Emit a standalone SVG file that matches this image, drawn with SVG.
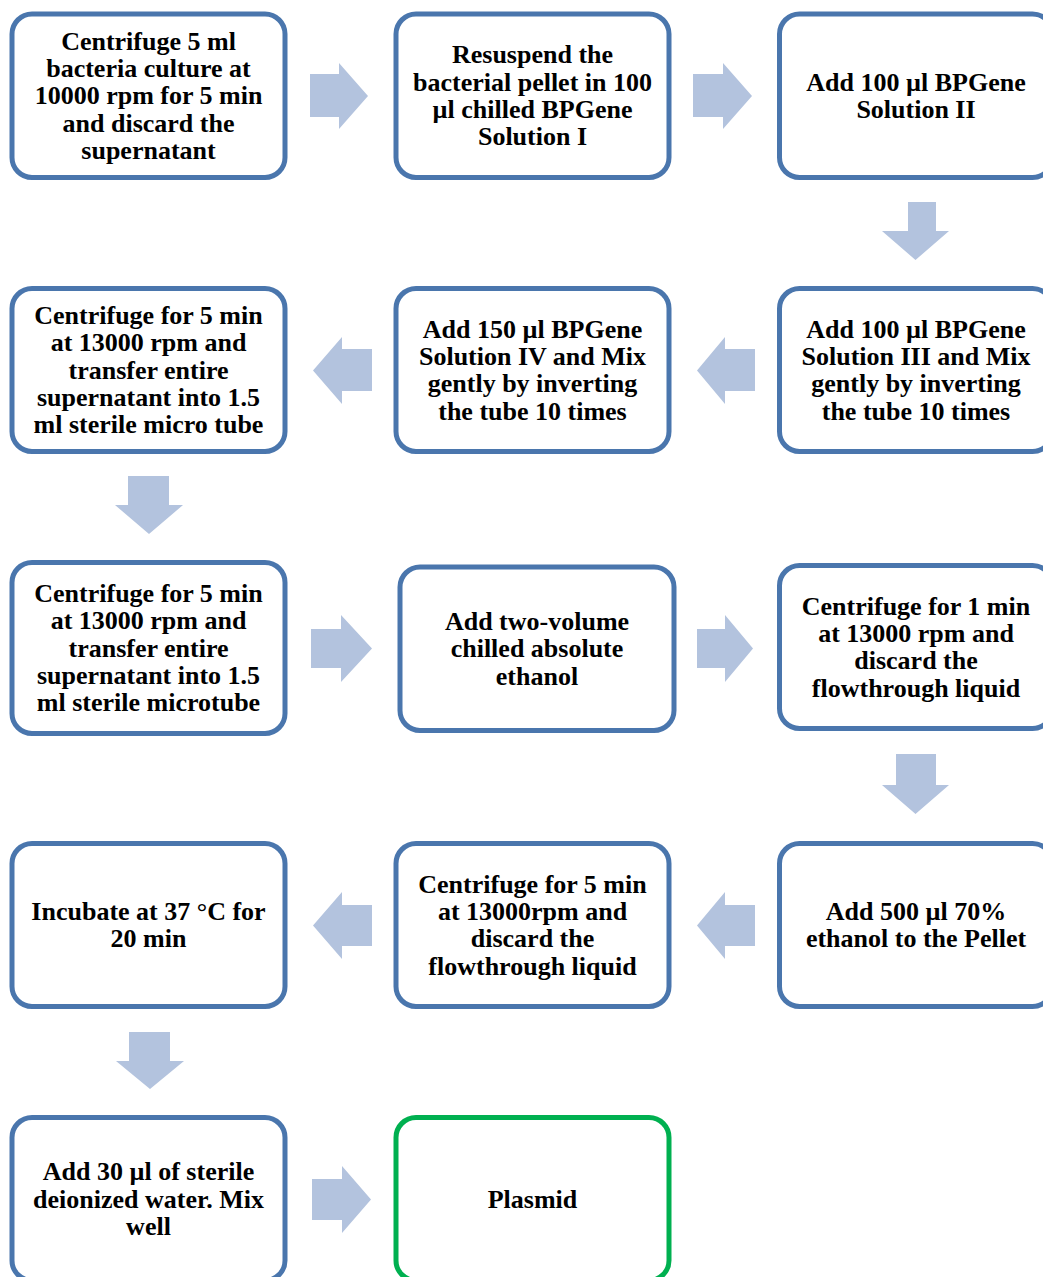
<svg xmlns="http://www.w3.org/2000/svg" width="1043" height="1277" viewBox="0 0 1043 1277">
<style>
.box{fill:#ffffff;stroke:#4a76ad;stroke-width:5}
.final{fill:#ffffff;stroke:#00b050;stroke-width:5}
.arr{fill:#b3c3de;stroke:none}
text{font-family:"Liberation Serif","Times New Roman",serif;font-weight:bold;font-size:26px;fill:#000000;text-anchor:middle}
</style>
<rect width="1043" height="1277" fill="#ffffff"/>
<g id="connectors">
<polygon class="arr" points="310,74 339,74 339,63 368,96 339,129 339,117 310,117"/>
<polygon class="arr" points="693,74 723,74 723,63 752,96 723,129 723,117 693,117"/>
<polygon class="arr" points="908,202 936,202 936,231 949,231 915.5,260 882,231 908,231"/>
<polygon class="arr" points="755,349 725,349 725,337 697,370.5 725,404 725,391 755,391"/>
<polygon class="arr" points="372,349 342,349 342,337 313,370.5 342,404 342,391 372,391"/>
<polygon class="arr" points="128,476 169,476 169,505 183,505 149,534 115,505 128,505"/>
<polygon class="arr" points="311,629 341,629 341,615 372,648.5 341,682 341,668 311,668"/>
<polygon class="arr" points="697,629 725,629 725,615 753,648.5 725,682 725,668 697,668"/>
<polygon class="arr" points="896,754 936,754 936,785 949,785 915.5,814 882,785 896,785"/>
<polygon class="arr" points="755,905 725,905 725,892 697,925.5 725,959 725,946 755,946"/>
<polygon class="arr" points="372,905 342,905 342,892 313,925.5 342,959 342,946 372,946"/>
<polygon class="arr" points="129,1032 170,1032 170,1061 184,1061 150,1089 116,1061 129,1061"/>
<polygon class="arr" points="312,1179 342,1179 342,1166 371,1199.5 342,1233 342,1220 312,1220"/>
</g>
<g id="n1">
<rect class="box" x="12" y="14" width="273" height="163.5" rx="20"/>
<text><tspan x="148.5" y="49.6">Centrifuge 5 ml</tspan><tspan x="148.5" y="76.9">bacteria culture at</tspan><tspan x="148.5" y="104.2">10000 rpm for 5 min</tspan><tspan x="148.5" y="131.5">and discard the</tspan><tspan x="148.5" y="158.8">supernatant</tspan></text>
</g>
<g id="n2">
<rect class="box" x="396" y="14" width="273" height="163.5" rx="20"/>
<text><tspan x="532.5" y="63.3">Resuspend the</tspan><tspan x="532.5" y="90.6">bacterial pellet in 100</tspan><tspan x="532.5" y="117.9">µl chilled BPGene</tspan><tspan x="532.5" y="145.2">Solution I</tspan></text>
</g>
<g id="n3">
<rect class="box" x="779.5" y="14" width="273" height="163.5" rx="20"/>
<text><tspan x="916" y="90.6">Add 100 µl BPGene</tspan><tspan x="916" y="117.9">Solution II</tspan></text>
</g>
<g id="n4">
<rect class="box" x="779.5" y="288.5" width="273" height="163" rx="20"/>
<text><tspan x="916" y="337.6">Add 100 µl BPGene</tspan><tspan x="916" y="364.9">Solution III and Mix</tspan><tspan x="916" y="392.2">gently by inverting</tspan><tspan x="916" y="419.5">the tube 10 times</tspan></text>
</g>
<g id="n5">
<rect class="box" x="396" y="288.5" width="273" height="163" rx="20"/>
<text><tspan x="532.5" y="337.6">Add 150 µl BPGene</tspan><tspan x="532.5" y="364.9">Solution IV and Mix</tspan><tspan x="532.5" y="392.2">gently by inverting</tspan><tspan x="532.5" y="419.5">the tube 10 times</tspan></text>
</g>
<g id="n6">
<rect class="box" x="12" y="288.5" width="273" height="163" rx="20"/>
<text><tspan x="148.5" y="323.9">Centrifuge for 5 min</tspan><tspan x="148.5" y="351.2">at 13000 rpm and</tspan><tspan x="148.5" y="378.5">transfer entire</tspan><tspan x="148.5" y="405.8">supernatant into 1.5</tspan><tspan x="148.5" y="433.1">ml sterile micro tube</tspan></text>
</g>
<g id="n7">
<rect class="box" x="12" y="562.5" width="273" height="171" rx="20"/>
<text><tspan x="148.5" y="601.9">Centrifuge for 5 min</tspan><tspan x="148.5" y="629.2">at 13000 rpm and</tspan><tspan x="148.5" y="656.5">transfer entire</tspan><tspan x="148.5" y="683.8">supernatant into 1.5</tspan><tspan x="148.5" y="711.1">ml sterile microtube</tspan></text>
</g>
<g id="n8">
<rect class="box" x="400" y="567" width="274" height="163.5" rx="20"/>
<text><tspan x="537" y="630">Add two-volume</tspan><tspan x="537" y="657.3">chilled absolute</tspan><tspan x="537" y="684.6">ethanol</tspan></text>
</g>
<g id="n9">
<rect class="box" x="779.5" y="565.5" width="273" height="163" rx="20"/>
<text><tspan x="916" y="614.6">Centrifuge for 1 min</tspan><tspan x="916" y="641.9">at 13000 rpm and</tspan><tspan x="916" y="669.2">discard the</tspan><tspan x="916" y="696.5">flowthrough liquid</tspan></text>
</g>
<g id="n10">
<rect class="box" x="779.5" y="843.5" width="273" height="163" rx="20"/>
<text><tspan x="916" y="919.9">Add 500 µl 70%</tspan><tspan x="916" y="947.2">ethanol to the Pellet</tspan></text>
</g>
<g id="n11">
<rect class="box" x="396" y="843.5" width="273" height="163" rx="20"/>
<text><tspan x="532.5" y="892.6">Centrifuge for 5 min</tspan><tspan x="532.5" y="919.9">at 13000rpm and</tspan><tspan x="532.5" y="947.2">discard the</tspan><tspan x="532.5" y="974.5">flowthrough liquid</tspan></text>
</g>
<g id="n12">
<rect class="box" x="12" y="843.5" width="273" height="163" rx="20"/>
<text><tspan x="148.5" y="919.9">Incubate at 37 °C for</tspan><tspan x="148.5" y="947.2">20 min</tspan></text>
</g>
<g id="n13">
<rect class="box" x="12" y="1117.5" width="273" height="163" rx="20"/>
<text><tspan x="148.5" y="1180.2">Add 30 µl of sterile</tspan><tspan x="148.5" y="1207.5">deionized water. Mix</tspan><tspan x="148.5" y="1234.8">well</tspan></text>
</g>
<g id="n14">
<rect class="final" x="396" y="1117.5" width="273" height="163" rx="20"/>
<text><tspan x="532.5" y="1207.5">Plasmid</tspan></text>
</g>
</svg>
